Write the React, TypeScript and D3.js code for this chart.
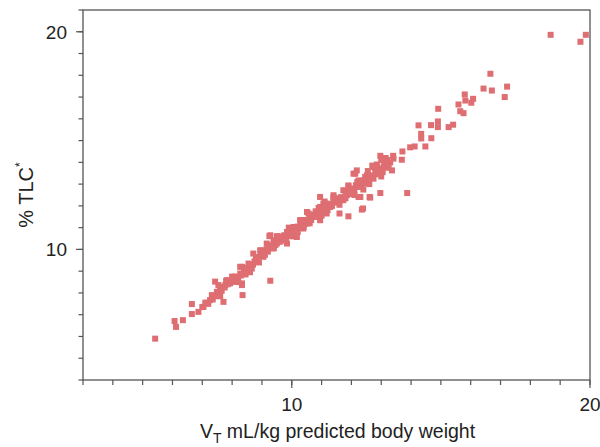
import React from "react";
import * as d3 from "d3";

// Tidal volume (mL/kg predicted body weight)
const vtValues: number[] = [
  18.68, 19.86, 19.68, 16.66, 16.43, 16.71, 17.22, 17.14, 15.80, 15.82,
  16.08, 16.02, 15.59, 15.65, 15.76, 14.91, 14.90, 14.90, 14.67, 14.25,
  15.26, 15.41, 14.34, 14.34, 14.68, 14.48, 13.97, 14.12, 13.71, 13.69,
  13.41, 13.87,
  12.97, 13.19, 13.08, 12.86, 13.36, 12.97, 12.18, 12.07, 12.52, 12.41,
  12.74, 11.90, 12.24, 11.73, 11.85, 11.40, 11.62, 10.95, 11.06, 11.29,
  12.24, 10.95, 12.97, 12.61, 12.39, 13.02, 12.74, 12.13, 12.24, 12.46,
  12.57, 11.96, 12.07, 12.30, 11.40, 11.12, 11.73, 10.51, 10.73, 11.17,
  10.95, 10.51, 10.39, 11.90, 11.60, 12.35, 12.63,
  10.84, 10.56, 10.45, 10.28, 10.06, 9.84, 9.67, 9.28, 9.39, 9.16,
  9.50, 9.28, 8.94, 8.71, 8.83, 8.55, 8.33, 8.27, 8.04, 7.82,
  7.71, 8.33, 10.17, 9.84, 9.05, 8.49, 8.66, 9.25, 9.50,
  5.42, 6.07, 6.12, 6.35, 6.65, 6.65, 6.87, 7.04, 7.15, 7.26,
  7.32, 7.43, 7.49, 7.60, 7.71, 7.54, 7.77, 7.93, 8.04, 8.16,
  8.27, 8.33, 8.35, 8.49, 7.33,
  7.0, 7.1, 7.2, 7.35, 7.45, 7.55, 7.65, 7.75, 7.85, 7.95,
  8.05, 8.1, 8.2, 8.3, 8.4, 8.45, 8.55, 8.6, 8.7, 8.75,
  8.85, 8.9, 8.95, 9.05, 9.1, 9.15, 9.2, 9.3, 9.35, 9.4,
  9.45, 9.55, 9.6, 9.65, 9.7, 9.75, 9.8, 9.9, 9.95, 10.0,
  10.05, 10.1, 10.15, 10.2, 10.3, 10.35, 10.4, 10.45, 10.55, 10.6,
  10.65, 10.7, 10.8, 10.85, 10.9, 11.0, 11.05, 11.15, 11.2, 11.3,
  11.35, 11.45, 11.5, 11.55, 11.65, 11.7, 11.8, 11.85, 11.95, 12.0,
  12.1, 12.15, 12.25, 12.3, 12.35, 12.45, 12.5, 12.6, 12.65, 12.7,
  12.8, 12.9, 12.95, 13.05, 13.1, 13.2, 13.25, 13.3, 13.15, 12.85,
  12.55,
  9.0, 9.2, 9.4, 9.6, 9.8, 10.0, 10.2, 10.4, 10.6, 10.8,
  11.0, 11.2, 11.4, 11.6, 11.8, 12.0, 12.2, 12.4, 12.6, 12.8,
  13.0, 13.2, 8.0, 8.2, 8.4, 8.6, 8.8, 7.6, 7.8, 13.4,
  13.0, 12.7, 11.1, 10.9, 9.9, 10.3, 11.9, 12.1,
];

// Percent of total lung capacity
const tlcValues: number[] = [
  19.86, 19.86, 19.54, 18.07, 17.39, 17.30, 17.48, 17.00, 17.12, 16.84,
  16.92, 16.74, 16.66, 16.35, 16.26, 16.46, 15.88, 15.62, 15.71, 15.70,
  15.62, 15.73, 15.31, 15.10, 15.11, 14.73, 14.69, 14.73, 14.50, 14.12,
  14.17, 12.59,
  14.30, 14.09, 13.78, 13.78, 13.63, 13.48, 13.63, 13.48, 13.40, 13.17,
  13.25, 12.94, 12.87, 12.72, 12.49, 12.41, 12.26, 12.41, 12.11, 11.95,
  12.41, 11.95, 12.59, 12.41, 11.88, 13.71, 13.78, 13.48, 13.17, 13.33,
  13.02, 12.72, 12.57, 12.41, 12.49, 12.11, 12.26, 11.72, 11.49, 11.65,
  11.34, 11.19, 10.96, 11.52, 11.65, 11.83, 12.38,
  11.57, 11.65, 11.19, 11.34, 11.03, 10.80, 10.57, 10.65, 10.42, 10.27,
  10.27, 8.56, 9.96, 9.81, 9.50, 9.35, 9.20, 8.89, 8.67, 8.59,
  8.28, 8.44, 10.57, 10.27, 9.66, 8.97, 9.12, 10.61, 10.61,
  5.90, 6.71, 6.44, 6.75, 7.03, 7.49, 7.13, 7.36, 7.55, 7.67,
  7.90, 8.52, 8.05, 8.21, 7.59, 8.36, 8.36, 8.44, 8.51, 8.74,
  9.20, 8.36, 7.90, 9.05, 7.76,
  7.35, 7.55, 7.5, 7.7, 7.85, 8.0, 8.1, 8.25, 8.4, 8.5,
  8.6, 8.75, 8.65, 8.8, 9.0, 8.85, 9.1, 9.25, 9.3, 9.45,
  9.55, 9.4, 9.7, 9.85, 9.75, 10.0, 9.9, 10.15, 10.05, 10.3,
  10.2, 10.4, 10.35, 10.55, 10.45, 10.65, 10.55, 10.75, 10.65, 10.85,
  10.75, 10.95, 10.85, 11.05, 11.1, 11.0, 11.25, 11.35, 11.3, 11.45,
  11.35, 11.6, 11.5, 11.7, 11.6, 11.8, 11.95, 11.85, 12.05, 12.1,
  12.0, 12.25, 12.15, 12.35, 12.4, 12.3, 12.55, 12.65, 12.55, 12.8,
  12.7, 12.95, 12.9, 13.05, 12.95, 13.15, 13.05, 13.25, 13.4, 13.3,
  13.45, 13.55, 13.65, 13.55, 13.85, 13.9, 13.75, 14.0, 14.2, 13.9,
  13.6,
  9.95, 10.2, 10.05, 10.6, 10.4, 10.6, 10.8, 11.05, 11.2, 11.75,
  11.55, 11.8, 12.3, 12.05, 12.35, 12.55, 13.1, 12.75, 13.0, 13.7,
  13.35, 14.1, 8.75, 8.5, 9.15, 8.95, 9.65, 7.85, 8.55, 14.3,
  14.1, 13.85, 12.2, 11.9, 11.0, 11.35, 12.9, 12.5,
];

const xDomain: [number, number] = [3, 20];
const yDomain: [number, number] = [4, 21];
const xMajorTicks = [10, 20];
const yMajorTicks = [10, 20];
const xMinorTicks = d3.range(3, 21, 1);
const yMinorTicks = d3.range(4, 22, 1);

const W = 600;
const H = 447;
const left = 83;
const right = 590;
const top = 10;
const bottom = 380;

const FONT = "'Liberation Sans', Arial, Helvetica, sans-serif";
const AXIS = "#555";
const POINT = "#de6e72";

export default function App() {
  const x = d3.scaleLinear().domain(xDomain).range([left, right]);
  const y = d3.scaleLinear().domain(yDomain).range([bottom, top]);
  const size = 6;

  return (
    <svg
      width={W}
      height={H}
      style={{ position: "absolute", left: 0, top: 0, background: "#fff" }}
      fontFamily={FONT}
    >
      <rect x={0} y={0} width={W} height={H} fill="#fff" />
      <g>
        {vtValues.map((v, i) => (
          <rect
            key={i}
            x={x(v) - size / 2}
            y={y(tlcValues[i]) - size / 2}
            width={size}
            height={size}
            fill={POINT}
          />
        ))}
      </g>
      <rect
        x={left}
        y={top}
        width={right - left}
        height={bottom - top}
        fill="none"
        stroke={AXIS}
        strokeWidth={1.3}
      />
      <g stroke={AXIS} strokeWidth={1.2}>
        {xMinorTicks.map((t) => (
          <line key={"xm" + t} x1={x(t)} x2={x(t)} y1={bottom} y2={bottom + 5} />
        ))}
        {xMajorTicks.map((t) => (
          <line key={"xM" + t} x1={x(t)} x2={x(t)} y1={bottom} y2={bottom + 8} />
        ))}
        {yMinorTicks.map((t) => (
          <line key={"ym" + t} x1={left} x2={left - 4.5} y1={y(t)} y2={y(t)} />
        ))}
        {yMajorTicks.map((t) => (
          <line key={"yM" + t} x1={left} x2={left - 7} y1={y(t)} y2={y(t)} />
        ))}
      </g>
      <g fontSize={19} fill="#222">
        {xMajorTicks.map((t) => (
          <text key={"xl" + t} x={x(t)} y={411} textAnchor="middle">
            {t}
          </text>
        ))}
        {yMajorTicks.map((t) => (
          <text key={"yl" + t} x={67} y={y(t) + 7} textAnchor="end">
            {t}
          </text>
        ))}
      </g>
      <text x={(left + right) / 2 + 1} y={438} textAnchor="middle" fontSize={19.5} fill="#222">
        V<tspan fontSize={14} dy={5}>T</tspan>
        <tspan dy={-5}> mL/kg predicted body weight</tspan>
      </text>
      <text
        transform={`translate(33, ${(top + bottom) / 2}) rotate(-90)`}
        textAnchor="middle"
        fontSize={20}
        fill="#222"
      >
        % TLC<tspan fontSize={12} dy={-9}>*</tspan>
      </text>
    </svg>
  );
}
